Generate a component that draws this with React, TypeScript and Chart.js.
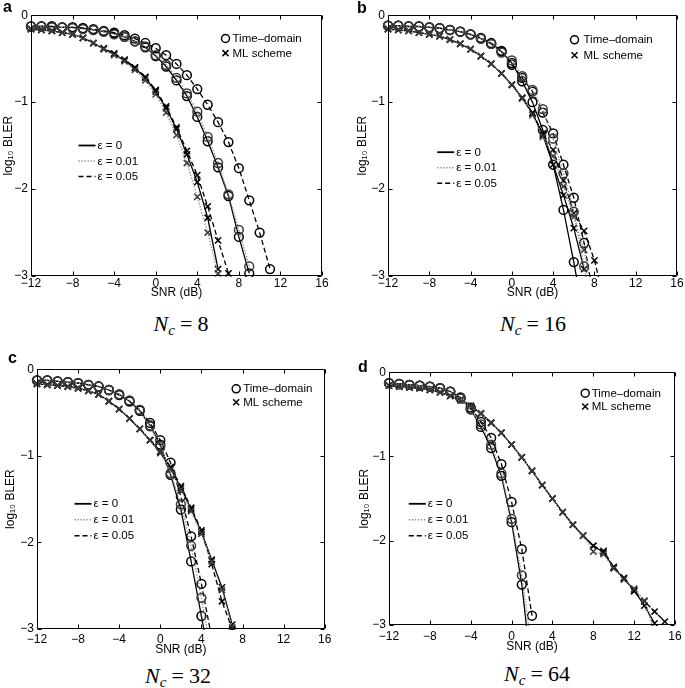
import React, { useEffect, useRef } from "react";
import { Chart, registerables } from "chart.js";

Chart.register(...registerables);

// ---------------- data ----------------
const SNR = [-12, -11, -10, -9, -8, -7, -6, -5, -4, -3, -2, -1, 0, 1, 2, 3, 4, 5, 6, 7, 8, 9, 10, 11, 12, 13, 14, 15];
const X_TICKS = [-12, -8, -4, 0, 4, 8, 12, 16];
const Y_TICKS = [0, -1, -2, -3];
const EPS_LABELS = ["ε = 0", "ε = 0.01", "ε = 0.05"];
const SCHEME_LABELS = ["Time–domain", "ML scheme"];
const PANEL_LETTERS = ["a", "b", "c", "d"];
const NC_VALUES = ["8", "16", "32", "64"];

// N_c = 8 (values start at SNR = -12 dB)
const TD8_E0 = [-0.13, -0.13, -0.13, -0.14, -0.14, -0.15, -0.17, -0.19, -0.21, -0.25, -0.30, -0.37, -0.47, -0.59, -0.75, -0.93, -1.17, -1.45, -1.75, -2.08, -2.55, -2.97];
const TD8_E1 = [-0.13, -0.13, -0.14, -0.14, -0.15, -0.16, -0.17, -0.19, -0.22, -0.25, -0.30, -0.36, -0.46, -0.57, -0.72, -0.90, -1.11, -1.40, -1.70, -2.06, -2.47, -2.89];
const TD8_E5 = [-0.13, -0.13, -0.13, -0.14, -0.14, -0.15, -0.16, -0.18, -0.20, -0.23, -0.27, -0.32, -0.38, -0.46, -0.56, -0.69, -0.85, -1.03, -1.23, -1.46, -1.76, -2.13, -2.50, -2.92];
const ML8_E0 = [-0.16, -0.17, -0.18, -0.20, -0.22, -0.26, -0.32, -0.39, -0.45, -0.52, -0.61, -0.72, -0.88, -1.07, -1.31, -1.60, -1.92, -2.33, -2.92];
const ML8_E1 = [-0.16, -0.17, -0.18, -0.20, -0.22, -0.26, -0.32, -0.39, -0.46, -0.53, -0.63, -0.75, -0.91, -1.12, -1.38, -1.70, -2.09, -2.50, -2.97];
const ML8_E5 = [-0.16, -0.17, -0.18, -0.20, -0.22, -0.26, -0.32, -0.38, -0.44, -0.51, -0.60, -0.71, -0.86, -1.05, -1.29, -1.56, -1.84, -2.20, -2.59, -2.97];

// N_c = 16
const TD16_E0 = [-0.12, -0.12, -0.13, -0.13, -0.14, -0.15, -0.17, -0.19, -0.22, -0.27, -0.33, -0.42, -0.55, -0.76, -1.00, -1.32, -1.72, -2.24, -2.84, -3.5];
const TD16_E1 = [-0.12, -0.12, -0.13, -0.13, -0.14, -0.15, -0.17, -0.19, -0.22, -0.27, -0.33, -0.43, -0.52, -0.70, -0.86, -1.08, -1.42, -1.82, -2.26, -2.89, -3.5];
const TD16_E5 = [-0.12, -0.12, -0.13, -0.13, -0.14, -0.15, -0.17, -0.19, -0.22, -0.26, -0.32, -0.41, -0.57, -0.72, -0.88, -1.12, -1.36, -1.72, -2.10, -2.62, -3.3];
const ML16_E0 = [-0.16, -0.17, -0.18, -0.20, -0.22, -0.24, -0.28, -0.33, -0.39, -0.47, -0.56, -0.67, -0.80, -0.95, -1.13, -1.38, -1.72, -2.07, -2.45, -2.92];
const ML16_E1 = [-0.16, -0.17, -0.18, -0.20, -0.22, -0.24, -0.28, -0.33, -0.39, -0.47, -0.56, -0.67, -0.80, -0.96, -1.15, -1.40, -1.62, -1.97, -2.32, -2.70, -3.3];
const ML16_E5 = [-0.16, -0.17, -0.18, -0.20, -0.22, -0.24, -0.28, -0.33, -0.39, -0.47, -0.56, -0.67, -0.80, -0.95, -1.12, -1.36, -1.55, -1.90, -2.28, -2.48, -2.82, -3.3];

// N_c = 32
const TD32_E0 = [-0.13, -0.13, -0.14, -0.15, -0.16, -0.18, -0.20, -0.24, -0.29, -0.37, -0.48, -0.65, -0.87, -1.22, -1.62, -2.22, -2.85, -3.5];
const TD32_E1 = [-0.13, -0.13, -0.14, -0.15, -0.16, -0.18, -0.20, -0.24, -0.29, -0.36, -0.47, -0.66, -0.89, -1.20, -1.56, -2.04, -2.64, -3.3];
const TD32_E5 = [-0.13, -0.13, -0.14, -0.15, -0.16, -0.18, -0.20, -0.24, -0.30, -0.37, -0.47, -0.62, -0.82, -1.08, -1.47, -1.93, -2.48, -3.1];
const ML32_E0 = [-0.17, -0.18, -0.19, -0.20, -0.22, -0.25, -0.29, -0.37, -0.46, -0.57, -0.69, -0.82, -0.96, -1.15, -1.37, -1.62, -1.88, -2.20, -2.52, -2.95];
const ML32_E1 = [-0.17, -0.18, -0.19, -0.20, -0.22, -0.25, -0.29, -0.37, -0.46, -0.57, -0.69, -0.82, -0.97, -1.16, -1.39, -1.64, -1.90, -2.22, -2.55, -2.98];
const ML32_E5 = [-0.17, -0.18, -0.19, -0.20, -0.22, -0.25, -0.29, -0.37, -0.46, -0.57, -0.69, -0.82, -0.95, -1.13, -1.35, -1.60, -1.86, -2.25, -2.68, -3.0];

// N_c = 64
const TD64_E0 = [-0.13, -0.14, -0.15, -0.16, -0.17, -0.19, -0.23, -0.31, -0.44, -0.65, -0.90, -1.23, -1.78, -2.52, -3.6];
const TD64_E1 = [-0.13, -0.14, -0.15, -0.16, -0.17, -0.19, -0.23, -0.31, -0.44, -0.62, -0.86, -1.20, -1.74, -2.41, -3.3];
const TD64_E5 = [-0.13, -0.14, -0.15, -0.16, -0.17, -0.19, -0.23, -0.30, -0.42, -0.59, -0.78, -1.09, -1.54, -2.10, -2.89];
const ML64_E0 = [-0.16, -0.17, -0.18, -0.19, -0.21, -0.24, -0.28, -0.33, -0.40, -0.49, -0.60, -0.72, -0.86, -1.01, -1.17, -1.34, -1.50, -1.66, -1.81, -1.94, -2.06, -2.14, -2.32, -2.45, -2.59, -2.77, -2.98];
const ML64_E1 = [-0.16, -0.17, -0.18, -0.19, -0.21, -0.24, -0.28, -0.33, -0.40, -0.49, -0.60, -0.72, -0.86, -1.01, -1.17, -1.34, -1.50, -1.66, -1.81, -1.94, -2.13, -2.16, -2.33, -2.46, -2.57, -2.71, -3.1];
const ML64_E5 = [-0.16, -0.17, -0.18, -0.19, -0.21, -0.24, -0.28, -0.33, -0.40, -0.49, -0.60, -0.72, -0.86, -1.01, -1.17, -1.34, -1.50, -1.66, -1.81, -1.94, -2.06, -2.12, -2.31, -2.44, -2.60, -2.72, -2.84, -2.96];

const TD_SERIES = [
  [TD8_E0, TD8_E1, TD8_E5],
  [TD16_E0, TD16_E1, TD16_E5],
  [TD32_E0, TD32_E1, TD32_E5],
  [TD64_E0, TD64_E1, TD64_E5],
];
const ML_SERIES = [
  [ML8_E0, ML8_E1, ML8_E5],
  [ML16_E0, ML16_E1, ML16_E5],
  [ML32_E0, ML32_E1, ML32_E5],
  [ML64_E0, ML64_E1, ML64_E5],
];

// ---------------- layout / style ----------------
const FONT = '"Liberation Sans", Arial, Helvetica, sans-serif';
const EPS_COLOR = ["#000000", "#8c8c8c", "#000000"];
const EPS_DASH = [[], [1.3, 1.7], [5, 3]];
const PAD_T = 10;
const PAD_R = 10;

type Geo = {
  L: number; R: number; T: number; B: number;
  yW: number; xH: number; xTickPad: number;
  lgRight: number; lgTop: number; lgRow: number; lgGap: number;
  epsLeft: number; epsTop: number; epsRow: number;
  letterX: number; letterBase: number;
  capX: number; capBase: number;
};

const GEO: Geo[] = [
  { L: 31, R: 322, T: 15, B: 276, yW: 30, xH: 24, xTickPad: 0, lgRight: 96, lgTop: 23, lgRow: 14.6, lgGap: 7, epsLeft: 47, epsTop: 130, epsRow: 15.5, letterX: 3, letterBase: 12.7, capX: 181, capBase: 331 },
  { L: 388, R: 677, T: 15, B: 276, yW: 33, xH: 24, xTickPad: 0, lgRight: 102, lgTop: 24.3, lgRow: 15.5, lgGap: 9, epsLeft: 48.7, epsTop: 136.7, epsRow: 15.5, letterX: 357, letterBase: 13.3, capX: 533, capBase: 331 },
  { L: 37, R: 325, T: 369, B: 629, yW: 34, xH: 28, xTickPad: 3.6, lgRight: 88.3, lgTop: 19.3, lgRow: 13.4, lgGap: 7, epsLeft: 37, epsTop: 134.3, epsRow: 16, letterX: 8, letterBase: 363, capX: 178, capBase: 683 },
  { L: 389, R: 676, T: 372, B: 625, yW: 32, xH: 29, xTickPad: 4.3, lgRight: 89.3, lgTop: 20.7, lgRow: 13.3, lgGap: 6.5, epsLeft: 19.3, epsTop: 131.3, epsRow: 16, letterX: 358, letterBase: 372, capX: 537, capBase: 681 },
];

const minusFmt = (v: number | string) => String(v).replace("-", "\u2212");

function toPoints(vals: number[]) {
  return vals.map((y, i) => ({ x: SNR[i], y }));
}

function buildDatasets(idx: number) {
  const ds: any[] = [];
  const order = [1, 2, 0];
  for (const e of order) {
    const common = {
      borderColor: EPS_COLOR[e],
      borderWidth: e === 1 ? 1.4 : 1.3,
      borderDash: EPS_DASH[e],
      fill: false,
      tension: 0,
      pointBackgroundColor: "rgba(0,0,0,0)",
      pointBorderColor: e === 1 ? "#3a3a3a" : "#000000",
      pointBorderWidth: 1.5,
      clip: { left: 8, top: 8, right: 8, bottom: 1 },
    };
    ds.push({
      ...common,
      label: `${SCHEME_LABELS[0]} ${EPS_LABELS[e]}`,
      data: toPoints(TD_SERIES[idx][e]),
      pointStyle: "circle",
      pointRadius: 4.4,
    });
    ds.push({
      ...common,
      label: `${SCHEME_LABELS[1]} ${EPS_LABELS[e]}`,
      data: toPoints(ML_SERIES[idx][e]),
      pointStyle: "crossRot",
      pointRadius: 4.4,
    });
  }
  return ds;
}

function makeOverlay(g: Geo) {
  return {
    id: "panelOverlay",
    afterDraw(chart: any) {
      const ctx = chart.ctx as CanvasRenderingContext2D;
      const xs = chart.scales.x;
      const ys = chart.scales.y;
      const x0 = Math.round(xs.getPixelForValue(-12)) + 0.5;
      const x1 = Math.round(xs.getPixelForValue(16)) - 0.5;
      const y0 = Math.round(ys.getPixelForValue(0)) + 0.5;
      const y1 = Math.round(ys.getPixelForValue(-3)) - 0.5;
      ctx.save();
      ctx.setLineDash([]);
      ctx.globalAlpha = 1;
      ctx.strokeStyle = "#000000";
      ctx.lineWidth = 1;
      ctx.beginPath();
      ctx.moveTo(x0, y0);
      ctx.lineTo(x1, y0);
      ctx.lineTo(x1, y1);
      ctx.lineTo(x0, y1);
      ctx.closePath();
      for (const v of X_TICKS) {
        const px = Math.round(xs.getPixelForValue(v)) + 0.5;
        ctx.moveTo(px, y1);
        ctx.lineTo(px, y1 - 4);
        ctx.moveTo(px, y0);
        ctx.lineTo(px, y0 + 4);
      }
      for (const v of Y_TICKS) {
        const py = Math.round(ys.getPixelForValue(v)) + 0.5;
        ctx.moveTo(x0, py);
        ctx.lineTo(x0 + 4, py);
        ctx.moveTo(x1, py);
        ctx.lineTo(x1 - 4, py);
      }
      ctx.stroke();

      // scheme legend (markers)
      ctx.font = `11.5px ${FONT}`;
      ctx.fillStyle = "#000";
      ctx.textBaseline = "middle";
      ctx.textAlign = "left";
      const cx = x1 - g.lgRight;
      const ly1 = y0 + g.lgTop;
      const ly2 = ly1 + g.lgRow;
      ctx.lineWidth = 1.5;
      ctx.beginPath();
      ctx.arc(cx, ly1, 4, 0, Math.PI * 2);
      ctx.stroke();
      ctx.beginPath();
      ctx.moveTo(cx - 3, ly2 - 3);
      ctx.lineTo(cx + 3, ly2 + 3);
      ctx.moveTo(cx + 3, ly2 - 3);
      ctx.lineTo(cx - 3, ly2 + 3);
      ctx.stroke();
      ctx.fillText(SCHEME_LABELS[0], cx + g.lgGap, ly1 + 0.5);
      ctx.fillText(SCHEME_LABELS[1], cx + g.lgGap, ly2 + 0.5);

      // epsilon legend (line styles)
      EPS_LABELS.forEach((lab, i) => {
        const y = y0 + g.epsTop + i * g.epsRow;
        const lx = x0 + g.epsLeft;
        ctx.strokeStyle = EPS_COLOR[i];
        ctx.setLineDash(EPS_DASH[i]);
        ctx.lineWidth = i === 0 ? 1.8 : 1.5;
        ctx.beginPath();
        ctx.moveTo(lx, y);
        ctx.lineTo(lx + 17, y);
        ctx.stroke();
        ctx.setLineDash([]);
        ctx.fillText(lab, lx + 19, y + 0.5);
      });
      ctx.restore();
    },
  };
}

function Panel({ idx }: { idx: number }) {
  const ref = useRef<HTMLCanvasElement | null>(null);
  const g = GEO[idx];
  const width = g.yW + (g.R - g.L) + PAD_R;
  const height = PAD_T + (g.B - g.T) + g.xH;
  useEffect(() => {
    if (!ref.current) return;
    const font = { family: FONT, size: 12 };
    const chart = new Chart(ref.current, {
      type: "line",
      data: { datasets: buildDatasets(idx) },
      options: {
        animation: false,
        responsive: false,
        maintainAspectRatio: false,
        devicePixelRatio: 1,
        layout: { padding: { top: PAD_T, right: PAD_R, left: 0, bottom: 0 } },
        plugins: { legend: { display: false }, tooltip: { enabled: false } },
        scales: {
          x: {
            type: "linear",
            min: -12,
            max: 16,
            afterBuildTicks: (s: any) => {
              s.ticks = X_TICKS.map((v) => ({ value: v }));
            },
            afterFit: (s: any) => {
              s.height = g.xH;
            },
            grid: { display: false, drawTicks: false },
            border: { display: false },
            ticks: { autoSkip: false, maxRotation: 0, padding: g.xTickPad, color: "#000", font, callback: (v: any) => minusFmt(v) },
            title: { display: true, text: "SNR (dB)", color: "#000", font, padding: { top: 0, bottom: 0 } },
          },
          y: {
            type: "linear",
            min: -3,
            max: 0,
            afterBuildTicks: (s: any) => {
              s.ticks = Y_TICKS.map((v) => ({ value: v }));
            },
            afterFit: (s: any) => {
              s.width = g.yW;
            },
            grid: { display: false, drawTicks: false },
            border: { display: false },
            ticks: { autoSkip: false, padding: 3, color: "#000", font, callback: (v: any) => minusFmt(v) },
            title: { display: true, text: "log₁₀ BLER", color: "#000", font, padding: { top: 0, bottom: 0 } },
          },
        },
      } as any,
      plugins: [makeOverlay(g) as any],
    });
    return () => chart.destroy();
  }, [idx]);

  return (
    <>
      <canvas
        ref={ref}
        width={width}
        height={height}
        style={{ position: "absolute", left: g.L - g.yW, top: g.T - PAD_T, width, height }}
      />
      <div
        style={{
          position: "absolute",
          left: g.letterX,
          top: g.letterBase - 13.5,
          font: `bold 16px ${FONT}`,
          lineHeight: "16px",
          color: "#000",
        }}
      >
        {PANEL_LETTERS[idx]}
      </div>
      <div
        style={{
          position: "absolute",
          left: g.capX - 90,
          width: 180,
          textAlign: "center",
          top: g.capBase - 18.4,
          font: '22px "Liberation Serif", "DejaVu Serif", serif',
          lineHeight: "22px",
          color: "#000",
          whiteSpace: "nowrap",
        }}
      >
        <i>N</i>
        <span style={{ fontSize: "15px", fontStyle: "italic", verticalAlign: "-4px" }}>c</span>
        <span style={{ margin: "0 5px" }}>=</span>
        {NC_VALUES[idx]}
      </div>
    </>
  );
}

export default function App() {
  return (
    <div style={{ position: "absolute", left: 0, top: 0, width: 685, height: 688, background: "#fff", overflow: "hidden" }}>
      {[0, 1, 2, 3].map((i) => (
        <Panel key={i} idx={i} />
      ))}
    </div>
  );
}
